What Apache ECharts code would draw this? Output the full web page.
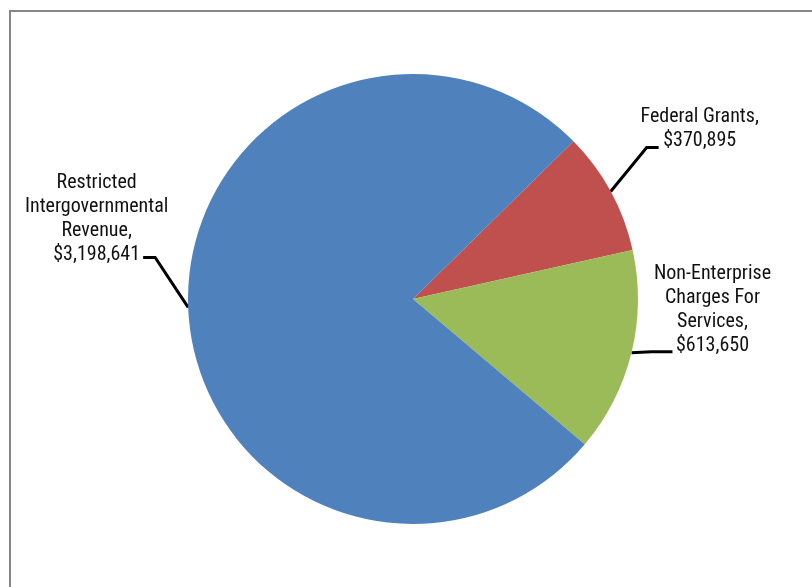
<!DOCTYPE html>
<html>
<head>
<meta charset="utf-8">
<script src="https://cdn.jsdelivr.net/npm/echarts@6/dist/echarts.min.js"></script>
<style>
html,body{margin:0;padding:0;background:#fff;}
#chart{width:812px;height:587px;}
</style>
</head>
<body>
<div id="chart"></div>
<script>
// Data
const categories = ['Federal Grants', 'Non-Enterprise\nCharges For\nServices', 'Restricted\nIntergovernmental\nRevenue'];
const values = [370895, 613650, 3198641];
const colors = ['#C0504D', '#9BBB59', '#4F81BD'];

// Label placement (offsets from library-computed anchor on slice edge)
const labelGeom = [
  { elbow: [36, -44], seg: 12, text: [41, -42.5] },
  { elbow: [20, -1], seg: 21, text: [40, -89.5] },
  { elbow: [-33, -50], seg: -12, text: [-46.5, -86.5] }
];

const fmt = v => '$' + v.toLocaleString('en-US');

const chart = echarts.init(document.getElementById('chart'), null, { renderer: 'canvas' });
chart.setOption({
  animation: false,
  backgroundColor: '#ffffff',
  graphic: [{
    type: 'rect',
    shape: { x: 10, y: 11, width: 1000, height: 1000 },
    style: { fill: 'none', stroke: '#878787', lineWidth: 2 },
    silent: true, z: -1
  }],
  series: [{
    type: 'pie',
    center: [413, 299],
    radius: 225,
    startAngle: 44.5,
    clockwise: true,
    avoidLabelOverlap: false,
    itemStyle: { borderWidth: 0 },
    label: {
      show: true,
      position: 'outside',
      color: '#111',
      fontSize: 20,
      lineHeight: 24,
      fontFamily: "'Liberation Sans Narrow', 'Arial Narrow', 'Roboto Condensed', 'DejaVu Sans Condensed', sans-serif",
      formatter: p => p.name + ',\n' + fmt(p.value)
    },
    labelLine: {
      show: true,
      length: 20,
      length2: 10,
      lineStyle: { color: '#000', width: 3 }
    },
    labelLayout: function (params) {
      const g = labelGeom[params.dataIndex];
      const s = params.labelLinePoints ? params.labelLinePoints[0] : [0, 0];
      const e1 = [s[0] + g.elbow[0], s[1] + g.elbow[1]];
      const e2 = [e1[0] + g.seg, e1[1]];
      return {
        x: e2[0] + g.text[0],
        y: e2[1] + g.text[1],
        align: 'center',
        verticalAlign: 'top',
        labelLinePoints: [s, e1, e2]
      };
    },
    data: categories.map((c, i) => ({ name: c, value: values[i], itemStyle: { color: colors[i] } }))
  }]
});
</script>
</body>
</html>
